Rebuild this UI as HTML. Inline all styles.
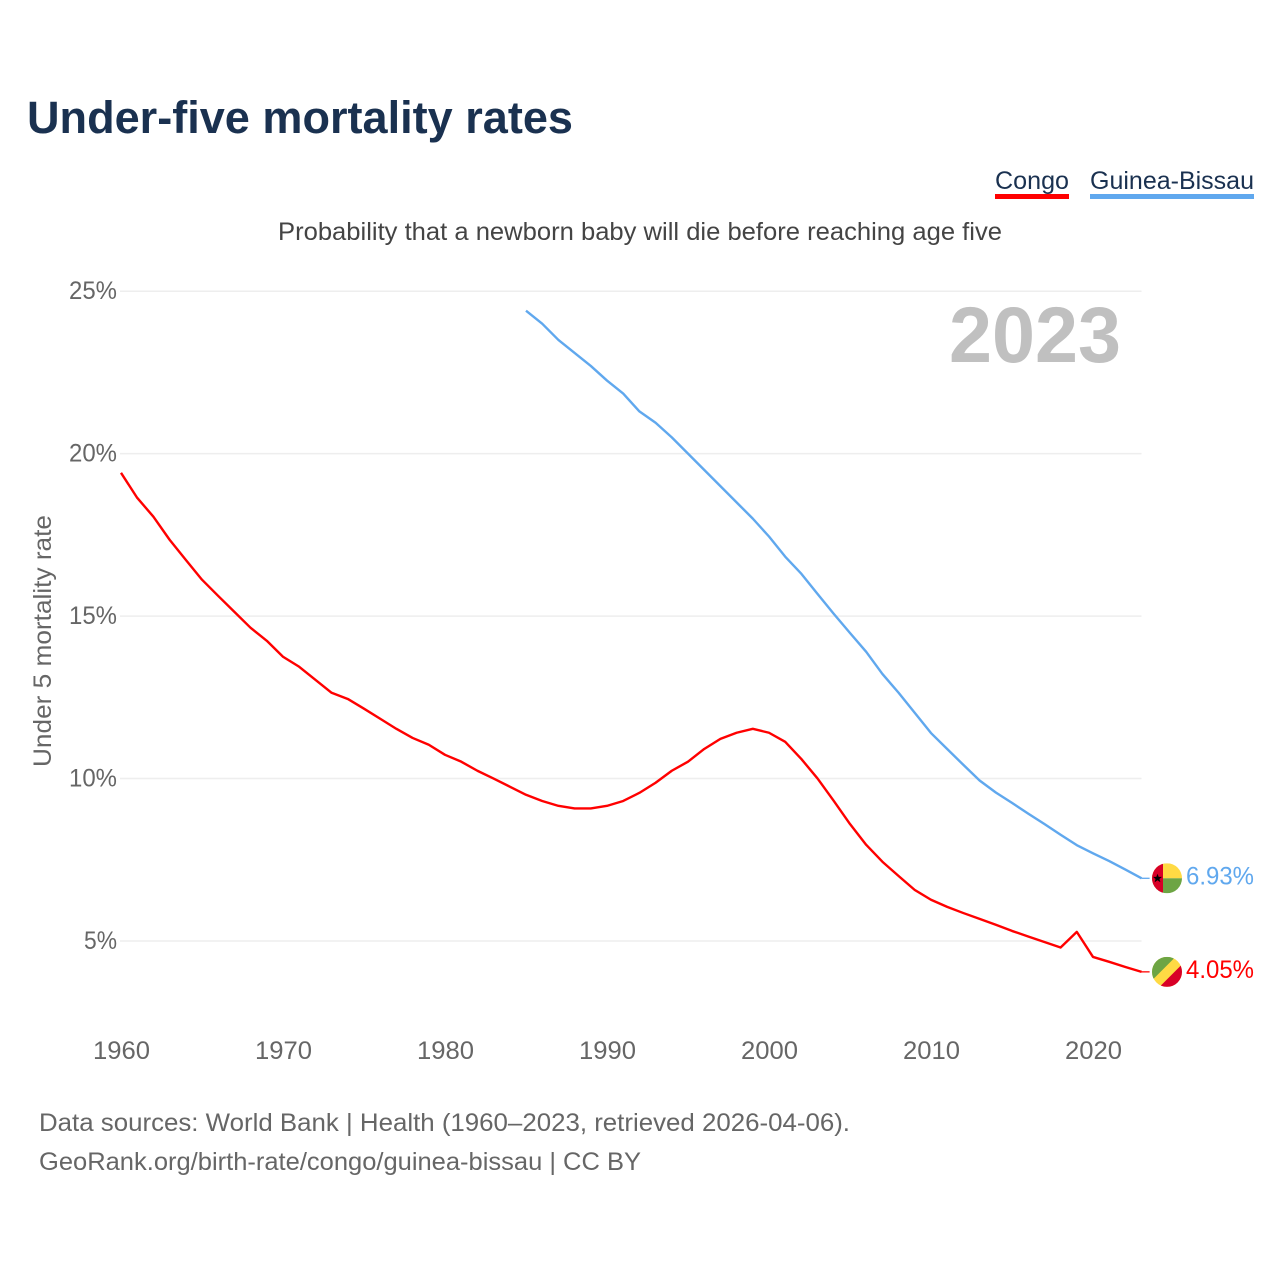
<!DOCTYPE html>
<html lang="en">
<head>
<meta charset="utf-8">
<title>Under-five mortality rates</title>
<style>
  html, body { margin: 0; padding: 0; background: #fff; }
  svg { display: block; font-family: "Liberation Sans", sans-serif; }
</style>
</head>
<body>
<svg id="chart" xmlns="http://www.w3.org/2000/svg" width="1280" height="1280" viewBox="0 0 1280 1280">
  <rect x="0" y="0" width="1280" height="1280" fill="#ffffff"/>
  <text x="27" y="133" font-size="45" font-weight="700" fill="#1a3150" textLength="546" lengthAdjust="spacingAndGlyphs">Under-five mortality rates</text>

  <g>
    <g>
      <text x="995" y="189" font-size="25" fill="#1a3150" textLength="74" lengthAdjust="spacingAndGlyphs">Congo</text>
      <rect x="995" y="194" width="74" height="5" fill="#ff0000"/>
    </g>
    <g>
      <text x="1090" y="189" font-size="25" fill="#1a3150" textLength="164" lengthAdjust="spacingAndGlyphs">Guinea-Bissau</text>
      <rect x="1090" y="194" width="164" height="5" fill="#60a8ee"/>
    </g>
  </g>

  <text x="278" y="240" font-size="25" fill="#444444" textLength="724" lengthAdjust="spacingAndGlyphs">Probability that a newborn baby will die before reaching age five</text>
  <text transform="translate(51,767) rotate(-90)" font-size="25" fill="#666666" textLength="252" lengthAdjust="spacingAndGlyphs">Under 5 mortality rate</text>

  <g id="grid"></g>
  <g id="y-ticks"></g>
  <g id="x-ticks"></g>

  <text x="949" y="362" font-size="79" font-weight="700" fill="#c0c0c0" textLength="172" lengthAdjust="spacingAndGlyphs">2023</text>

  <g id="series"></g>
  <g id="endpoints"></g>

  <text x="39" y="1131" font-size="25" fill="#666666" textLength="811" lengthAdjust="spacingAndGlyphs">Data sources: World Bank | Health (1960–2023, retrieved 2026-04-06).</text>
  <text x="39" y="1170" font-size="25" fill="#666666" textLength="602" lengthAdjust="spacingAndGlyphs">GeoRank.org/birth-rate/congo/guinea-bissau | CC BY</text>
</svg>

<script>
var xTickYears = [1960, 1970, 1980, 1990, 2000, 2010, 2020];
var xTickLabels = ["1960", "1970", "1980", "1990", "2000", "2010", "2020"];
var yTickValues = [5, 10, 15, 20, 25];
var yTickLabels = ["5%", "10%", "15%", "20%", "25%"];

var congoStartYear = 1960;
var congoValues = [
  19.41, 18.64, 18.06, 17.35, 16.73, 16.12, 15.62, 15.13, 14.64, 14.24,
  13.75, 13.44, 13.04, 12.64, 12.45, 12.15, 11.84, 11.53, 11.25, 11.04,
  10.73, 10.52, 10.24, 10.00, 9.75, 9.50, 9.31, 9.16, 9.08, 9.08,
  9.16, 9.31, 9.56, 9.87, 10.24, 10.52, 10.91, 11.22, 11.41, 11.53,
  11.41, 11.13, 10.60, 10.00, 9.31, 8.60, 7.96, 7.44, 7.00, 6.57,
  6.27, 6.05, 5.86, 5.68, 5.50, 5.31, 5.14, 4.97, 4.80, 5.28,
  4.51, 4.36, 4.20, 4.05
];

var guineaStartYear = 1985;
var guineaValues = [
  24.40, 24.00, 23.50, 23.10, 22.70, 22.25, 21.85, 21.30, 20.95, 20.50,
  20.00, 19.50, 19.00, 18.50, 18.00, 17.45, 16.83, 16.30, 15.68, 15.07,
  14.48, 13.90, 13.22, 12.64, 12.02, 11.40, 10.91, 10.42, 9.94, 9.57,
  9.25, 8.92, 8.60, 8.27, 7.95, 7.70, 7.46, 7.20, 6.93
];

var SVG_NS = "http://www.w3.org/2000/svg";

function xScale(year) {
  return 121 + (year - 1960) * 16.2;
}
function yScale(value) {
  return 941 - (value - 5) * 32.49;
}
function make(tag, attrs, parent) {
  var el = document.createElementNS(SVG_NS, tag);
  for (var k in attrs) {
    el.setAttribute(k, attrs[k]);
  }
  parent.appendChild(el);
  return el;
}
function buildPoints(startYear, values) {
  return values.map(function (v, i) {
    return xScale(startYear + i).toFixed(2) + "," + yScale(v).toFixed(2);
  }).join(" ");
}

var grid = document.getElementById("grid");
var yTicks = document.getElementById("y-ticks");
var xTicks = document.getElementById("x-ticks");
var seriesGroup = document.getElementById("series");
var endpoints = document.getElementById("endpoints");

yTickValues.forEach(function (v, i) {
  var line = make("line", {
    x1: 120,
    x2: 1141.5,
    y1: yScale(v),
    y2: yScale(v),
    stroke: "#eeeeee",
    "stroke-width": 1.5
  }, grid);
  
  

  var label = make("text", {
    x: 117,
    y: yScale(v) + 8,
    "text-anchor": "end",
    "font-size": 25,
    fill: "#666666",
    textLength: v < 10 ? 33 : 48,
    lengthAdjust: "spacingAndGlyphs"
  }, yTicks);
  label.textContent = yTickLabels[i];
  
  
});

xTickYears.forEach(function (yr, i) {
  var label = make("text", {
    x: xScale(yr) + 0.5,
    y: 1059,
    "text-anchor": "middle",
    "font-size": 25,
    fill: "#666666",
    textLength: 57,
    lengthAdjust: "spacingAndGlyphs"
  }, xTicks);
  label.textContent = xTickLabels[i];
  
  
});

var congoLine = make("polyline", {
  points: buildPoints(congoStartYear, congoValues),
  fill: "none",
  stroke: "#ff0000",
  "stroke-width": 2.4,
  "stroke-linejoin": "round"
}, seriesGroup);



var guineaLine = make("polyline", {
  points: buildPoints(guineaStartYear, guineaValues),
  fill: "none",
  stroke: "#60a8ee",
  "stroke-width": 2.4,
  "stroke-linejoin": "round"
}, seriesGroup);



function addEndpoint(values, startYear, color) {
  var last = values[values.length - 1];
  var xEnd = xScale(startYear + values.length - 1);
  var yEnd = yScale(last);
  var stub = make("line", {
    x1: xEnd,
    x2: xEnd + 8,
    y1: yEnd,
    y2: yEnd,
    stroke: color,
    "stroke-width": 1.3
  }, endpoints);
  
  

  var text = make("text", {
    x: 1186,
    y: yEnd + 6,
    "font-size": 25,
    fill: color,
    textLength: 68,
    lengthAdjust: "spacingAndGlyphs"
  }, endpoints);
  text.textContent = last.toFixed(2) + "%";
  
  

  return make("g", {
    transform: "translate(1167," + yEnd.toFixed(2) + ")",
    "clip-path": "url(#flag-clip)"
  }, endpoints);
}

var defs = make("defs", {}, document.getElementById("chart"));
var clip = make("clipPath", { id: "flag-clip" }, defs);
make("circle", { cx: 0, cy: 0, r: 15 }, clip);

var gwFlag = addEndpoint(guineaValues, guineaStartYear, "#60a8ee");


make("rect", { x: -15, y: -15, width: 30, height: 15, fill: "#ffda44" }, gwFlag);
make("rect", { x: -15, y: 0, width: 30, height: 15, fill: "#6da544" }, gwFlag);
make("rect", { x: -15, y: -15, width: 11, height: 30, fill: "#d80027" }, gwFlag);
make("polygon", {
  points: "-9.5,-4.6 -8.3,-1.4 -5,-1.4 -7.6,0.7 -6.6,3.9 -9.5,2 -12.4,3.9 -11.4,0.7 -14,-1.4 -10.7,-1.4",
  fill: "#000000"
}, gwFlag);

var cgFlag = addEndpoint(congoValues, congoStartYear, "#ff0000");


make("rect", { x: -15, y: -15, width: 30, height: 30, fill: "#ffda44" }, cgFlag);
make("polygon", { points: "-15,-15 8.5,-15 -15,8.5", fill: "#6da544" }, cgFlag);
make("polygon", { points: "15,15 -7.5,15 15,-7.5", fill: "#d80027" }, cgFlag);
</script>
</body>
</html>
